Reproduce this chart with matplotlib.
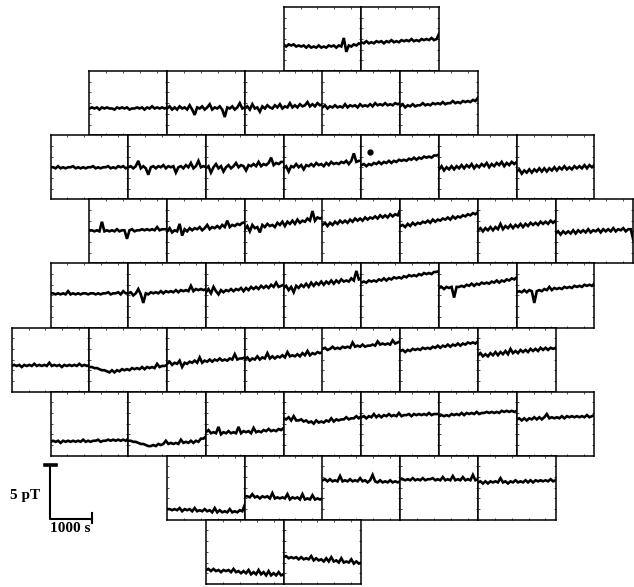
import numpy as np
import matplotlib
matplotlib.use("Agg")
import matplotlib.pyplot as plt

# field traces (pT above the bottom of each box), 32 samples over one record
row0 = [
    [2.5, 2.3, 2.5, 2.4, 2.5, 2.3, 2.4, 2.3, 2.4, 2.2, 2.4, 2.2, 2.3, 2.2, 2.4, 2.2, 2.3, 2.2, 2.4, 2.3, 2.4, 2.2, 2.4, 2.3, 3.1, 1.8, 2.4, 2.3, 2.5, 2.4, 2.6, 2.5],
    [2.7, 2.6, 2.8, 2.6, 2.7, 2.6, 2.8, 2.7, 2.8, 2.6, 2.8, 2.7, 2.9, 2.7, 2.8, 2.7, 2.9, 2.8, 2.9, 2.8, 3.0, 2.8, 2.9, 2.8, 3.0, 2.9, 3.0, 2.9, 3.1, 2.9, 3.0, 3.5],
]
row1 = [
    [2.5, 2.6, 2.5, 2.6, 2.4, 2.6, 2.5, 2.6, 2.5, 2.5, 2.4, 2.6, 2.5, 2.6, 2.5, 2.6, 2.4, 2.5, 2.5, 2.6, 2.5, 2.6, 2.4, 2.6, 2.5, 2.7, 2.5, 2.6, 2.5, 2.6, 2.5, 2.6],
    [2.5, 2.7, 2.4, 2.6, 2.4, 2.7, 2.5, 2.6, 2.4, 2.8, 2.4, 1.9, 2.6, 2.5, 2.7, 2.4, 2.6, 2.9, 2.4, 2.6, 2.5, 2.7, 2.4, 1.7, 2.6, 2.5, 2.7, 2.4, 2.6, 3.0, 2.5, 2.6],
    [2.5, 2.7, 2.4, 2.9, 2.5, 2.6, 2.2, 2.7, 2.5, 2.8, 2.6, 2.5, 2.8, 2.6, 2.9, 2.5, 2.7, 2.6, 3.0, 2.6, 2.8, 2.6, 2.9, 2.7, 2.8, 3.1, 2.7, 2.9, 2.7, 3.0, 2.8, 2.9],
    [2.6, 2.8, 2.5, 2.7, 2.6, 2.8, 2.6, 2.7, 2.6, 2.9, 2.6, 2.8, 2.7, 2.8, 2.6, 2.9, 2.7, 2.8, 2.7, 2.9, 2.7, 3.0, 2.8, 2.9, 2.8, 3.0, 2.8, 2.9, 2.8, 3.0, 2.9, 3.0],
    [2.7, 2.9, 2.6, 2.8, 2.7, 2.9, 2.7, 2.8, 2.8, 3.0, 2.8, 2.9, 2.8, 3.0, 2.9, 3.0, 2.9, 3.1, 2.9, 3.0, 3.0, 3.2, 3.0, 3.1, 3.0, 3.2, 3.1, 3.2, 3.1, 3.3, 3.2, 3.5],
]
row2 = [
    [3.0, 3.0, 2.9, 3.1, 2.9, 3.0, 2.9, 3.0, 3.0, 3.1, 2.9, 3.0, 2.9, 3.0, 2.9, 3.0, 3.0, 3.1, 2.9, 3.0, 2.9, 3.0, 3.0, 3.1, 2.9, 3.0, 2.9, 3.1, 3.0, 3.1, 2.9, 3.0],
    [3.0, 3.1, 2.9, 3.1, 3.6, 2.9, 3.1, 2.9, 2.3, 3.0, 3.1, 2.9, 3.1, 3.0, 3.2, 2.9, 3.1, 3.0, 3.1, 2.5, 3.0, 3.1, 2.9, 3.2, 3.0, 3.4, 2.9, 3.1, 3.6, 3.0, 3.1, 3.0],
    [2.9, 3.1, 2.5, 3.0, 3.3, 2.9, 3.1, 2.6, 3.0, 3.2, 2.9, 3.1, 3.4, 3.0, 3.2, 3.1, 2.7, 3.2, 3.1, 3.3, 3.1, 3.5, 3.1, 3.3, 3.2, 3.4, 3.9, 3.2, 3.4, 3.3, 3.5, 3.5],
    [2.9, 3.1, 2.6, 3.1, 3.0, 3.3, 3.0, 3.2, 2.8, 3.2, 3.1, 3.3, 3.1, 3.4, 3.2, 3.3, 3.1, 3.4, 3.2, 3.5, 3.3, 3.4, 3.3, 3.5, 3.4, 3.6, 3.3, 3.6, 4.3, 3.5, 3.6, 3.6],
    [3.2, 3.3, 3.1, 3.3, 3.2, 3.4, 3.3, 3.5, 3.3, 3.5, 3.4, 3.6, 3.4, 3.6, 3.5, 3.7, 3.6, 3.7, 3.6, 3.8, 3.7, 3.9, 3.7, 3.9, 3.8, 4.0, 3.9, 4.0, 3.9, 4.1, 4.1, 4.2],
    [2.8, 3.1, 2.7, 3.0, 2.8, 3.1, 2.8, 3.1, 2.9, 3.2, 2.9, 3.2, 3.0, 3.3, 2.9, 3.2, 3.0, 3.3, 3.1, 3.4, 3.0, 3.3, 3.1, 3.4, 3.2, 3.5, 3.1, 3.4, 3.2, 3.5, 3.3, 3.5],
    [2.6, 2.8, 2.4, 2.7, 2.5, 2.8, 2.5, 2.8, 2.6, 2.9, 2.6, 2.9, 2.6, 2.9, 2.7, 3.0, 2.7, 3.0, 2.8, 3.1, 2.8, 3.0, 2.8, 3.1, 2.9, 3.1, 2.9, 3.2, 2.9, 3.2, 3.0, 3.2],
]
row3 = [
    [3.1, 3.1, 3.0, 3.1, 3.0, 3.9, 3.0, 3.1, 3.0, 3.1, 3.0, 3.2, 3.0, 3.1, 3.1, 2.3, 3.1, 3.2, 3.0, 3.1, 3.1, 3.2, 3.1, 3.2, 3.1, 3.2, 3.1, 3.4, 3.1, 3.2, 3.2, 3.2],
    [3.0, 3.3, 2.9, 3.1, 3.0, 3.7, 2.6, 3.2, 3.0, 3.3, 3.1, 3.3, 3.2, 3.4, 3.1, 3.3, 3.6, 3.2, 3.4, 3.3, 3.5, 3.3, 3.6, 3.4, 4.0, 3.4, 3.6, 3.5, 3.7, 3.6, 3.8, 3.8],
    [3.2, 3.5, 3.0, 3.6, 3.3, 3.4, 2.9, 3.6, 3.4, 3.7, 3.5, 3.6, 3.4, 3.8, 3.6, 3.9, 3.5, 3.9, 3.7, 4.0, 3.7, 4.1, 3.8, 4.0, 3.9, 4.2, 4.0, 4.9, 4.0, 4.3, 4.2, 4.3],
    [3.6, 3.8, 3.5, 3.8, 3.6, 3.9, 3.7, 4.0, 3.8, 4.0, 3.8, 4.1, 3.9, 4.2, 4.0, 4.2, 4.0, 4.3, 4.1, 4.3, 4.2, 4.4, 4.2, 4.5, 4.3, 4.5, 4.3, 4.6, 4.4, 4.6, 4.5, 5.0],
    [3.5, 3.6, 3.4, 3.7, 3.5, 3.8, 3.6, 3.8, 3.7, 3.9, 3.8, 4.0, 3.8, 4.1, 3.9, 4.1, 4.0, 4.2, 4.1, 4.3, 4.1, 4.4, 4.2, 4.4, 4.3, 4.5, 4.4, 4.6, 4.5, 4.7, 4.6, 4.8],
    [3.1, 3.3, 3.0, 3.3, 3.1, 3.4, 3.1, 3.4, 3.2, 3.7, 3.2, 3.5, 3.3, 3.6, 3.3, 3.6, 3.4, 3.7, 3.4, 3.7, 3.5, 3.8, 3.6, 3.8, 3.6, 3.9, 3.7, 3.9, 3.7, 4.0, 3.8, 4.0],
    [2.8, 3.0, 2.7, 3.0, 2.8, 3.0, 2.8, 3.1, 2.8, 3.1, 2.9, 3.1, 2.9, 3.2, 2.9, 3.1, 3.0, 3.2, 2.9, 3.2, 3.0, 3.2, 3.0, 3.3, 3.0, 3.2, 3.1, 3.3, 3.0, 3.2, 3.2, 2.2],
]
row4 = [
    [3.2, 3.2, 3.1, 3.2, 3.1, 3.2, 3.1, 3.4, 3.1, 3.2, 3.1, 3.2, 3.1, 3.2, 3.2, 3.1, 3.2, 3.2, 3.1, 3.2, 3.1, 3.2, 3.2, 3.3, 3.1, 3.2, 3.2, 3.3, 3.1, 3.4, 3.2, 3.2],
    [3.2, 3.3, 3.0, 3.2, 3.6, 3.1, 2.3, 3.2, 3.1, 3.3, 3.2, 3.3, 3.2, 3.4, 3.2, 3.4, 3.3, 3.4, 3.3, 3.5, 3.3, 3.5, 3.4, 3.5, 3.4, 3.9, 3.4, 3.6, 3.5, 3.6, 3.5, 3.6],
    [3.3, 3.6, 3.2, 3.8, 3.4, 3.1, 3.5, 3.3, 3.5, 3.4, 3.6, 3.4, 3.6, 3.5, 3.7, 3.4, 3.7, 3.5, 3.8, 3.6, 3.8, 3.6, 3.9, 3.7, 3.9, 3.7, 4.0, 3.8, 4.2, 3.8, 3.9, 4.0],
    [3.7, 3.9, 3.5, 3.8, 3.3, 3.9, 3.7, 4.0, 3.8, 4.1, 3.8, 4.2, 3.9, 4.2, 4.0, 4.3, 4.0, 4.3, 4.1, 4.4, 4.1, 4.4, 4.2, 4.5, 4.3, 4.4, 4.3, 4.6, 4.4, 5.3, 4.5, 4.6],
    [4.2, 4.3, 4.2, 4.4, 4.3, 4.4, 4.3, 4.5, 4.4, 4.6, 4.4, 4.6, 4.5, 4.7, 4.6, 4.7, 4.6, 4.8, 4.7, 4.9, 4.8, 4.9, 4.8, 5.0, 4.9, 5.1, 5.0, 5.1, 5.0, 5.2, 5.2, 5.3],
    [3.7, 3.8, 3.6, 3.8, 3.7, 3.8, 2.8, 3.8, 3.8, 3.9, 3.8, 4.0, 3.9, 4.1, 3.9, 4.1, 4.0, 4.2, 4.1, 4.2, 4.1, 4.3, 4.2, 4.4, 4.2, 4.4, 4.3, 4.5, 4.4, 4.6, 4.5, 4.7],
    [3.3, 3.4, 3.3, 3.5, 3.3, 3.5, 3.4, 2.3, 3.4, 3.5, 3.4, 3.6, 3.5, 3.8, 3.5, 3.7, 3.6, 3.7, 3.6, 3.8, 3.7, 3.8, 3.7, 3.9, 3.8, 3.9, 3.8, 4.0, 3.9, 4.0, 3.9, 4.1],
]
row5 = [
    [2.4, 2.5, 2.4, 2.5, 2.3, 2.5, 2.4, 2.5, 2.4, 2.6, 2.4, 2.5, 2.4, 2.5, 2.4, 2.7, 2.4, 2.5, 2.4, 2.5, 2.3, 2.5, 2.4, 2.5, 2.4, 2.5, 2.4, 2.6, 2.4, 2.5, 2.4, 2.5],
    [2.3, 2.3, 2.2, 2.2, 2.1, 2.0, 2.0, 1.9, 1.8, 2.0, 1.8, 2.0, 1.9, 2.1, 2.0, 2.1, 2.0, 2.2, 2.1, 2.2, 2.1, 2.3, 2.1, 2.3, 2.2, 2.3, 2.2, 2.6, 2.3, 2.4, 2.4, 2.5],
    [2.6, 2.8, 2.5, 2.7, 2.6, 2.9, 2.3, 2.7, 2.6, 2.8, 2.7, 2.9, 2.7, 3.2, 2.7, 2.9, 2.8, 3.0, 2.8, 3.0, 2.9, 3.1, 2.9, 3.0, 2.9, 3.1, 3.0, 3.5, 3.0, 3.1, 3.1, 3.2],
    [3.0, 3.2, 2.9, 3.1, 3.0, 3.3, 3.0, 3.2, 3.1, 3.6, 3.1, 3.3, 3.1, 3.3, 3.2, 3.4, 3.2, 3.7, 3.3, 3.4, 3.3, 3.5, 3.3, 3.6, 3.4, 3.8, 3.4, 3.6, 3.5, 3.7, 3.6, 3.7],
    [4.0, 4.1, 3.9, 4.0, 4.2, 4.0, 4.1, 4.0, 4.2, 4.1, 4.2, 4.1, 4.6, 4.2, 4.3, 4.2, 4.4, 4.2, 4.3, 4.3, 4.4, 4.3, 4.7, 4.4, 4.5, 4.4, 4.5, 4.4, 4.8, 4.5, 4.6, 4.7],
    [3.8, 3.9, 3.7, 3.9, 3.8, 4.0, 3.9, 4.0, 3.9, 4.1, 4.0, 4.1, 4.0, 4.2, 4.1, 4.3, 4.1, 4.3, 4.2, 4.4, 4.2, 4.4, 4.3, 4.5, 4.3, 4.5, 4.4, 4.6, 4.5, 4.6, 4.5, 4.7],
    [3.4, 3.6, 3.3, 3.5, 3.3, 3.6, 3.4, 3.7, 3.4, 3.7, 3.5, 3.8, 3.5, 4.0, 3.6, 3.8, 3.6, 3.9, 3.7, 3.9, 3.7, 4.0, 3.8, 4.0, 3.8, 4.1, 3.9, 4.1, 3.9, 4.1, 4.0, 4.1],
]
row6 = [
    [1.3, 1.4, 1.3, 1.4, 1.2, 1.4, 1.3, 1.4, 1.3, 1.4, 1.3, 1.4, 1.3, 1.5, 1.3, 1.4, 1.3, 1.4, 1.4, 1.5, 1.3, 1.4, 1.4, 1.5, 1.4, 1.5, 1.4, 1.5, 1.4, 1.5, 1.4, 1.6],
    [1.4, 1.4, 1.3, 1.3, 1.2, 1.1, 1.1, 1.0, 0.9, 0.9, 1.0, 0.9, 1.1, 1.0, 1.1, 1.4, 1.1, 1.2, 1.1, 1.2, 1.1, 1.5, 1.2, 1.3, 1.2, 1.4, 1.2, 1.4, 1.3, 1.6, 1.6, 1.8],
    [2.2, 2.4, 2.1, 2.2, 2.1, 2.7, 2.0, 2.2, 2.1, 2.3, 2.1, 2.2, 2.1, 2.7, 2.1, 2.3, 2.2, 2.3, 2.1, 2.6, 2.2, 2.3, 2.2, 2.4, 2.3, 2.5, 2.3, 2.4, 2.3, 2.5, 2.4, 2.6],
    [3.5, 3.4, 3.6, 3.3, 3.7, 3.3, 3.3, 3.4, 3.2, 3.3, 3.1, 3.2, 3.0, 3.3, 3.1, 3.2, 3.1, 3.3, 3.2, 3.5, 3.2, 3.4, 3.3, 3.4, 3.4, 3.6, 3.4, 3.5, 3.5, 3.7, 3.5, 3.7],
    [3.6, 3.7, 3.5, 3.7, 3.6, 3.9, 3.6, 3.8, 3.6, 3.8, 3.7, 3.9, 3.7, 3.8, 3.7, 4.0, 3.7, 3.8, 3.8, 3.9, 3.7, 3.9, 3.8, 3.9, 3.8, 3.9, 3.8, 4.0, 3.8, 3.9, 3.9, 3.9],
    [3.7, 3.8, 3.7, 3.8, 3.7, 3.9, 3.8, 3.9, 3.8, 4.0, 3.8, 4.0, 3.9, 4.0, 3.9, 4.1, 3.9, 4.0, 4.0, 4.1, 4.0, 4.1, 4.0, 4.1, 4.0, 4.2, 4.1, 4.2, 4.1, 4.2, 4.1, 4.2],
    [3.4, 3.5, 3.3, 3.5, 3.3, 3.5, 3.4, 3.6, 3.4, 3.6, 3.4, 3.6, 3.9, 3.5, 3.6, 3.5, 3.6, 3.5, 3.7, 3.5, 3.7, 3.6, 3.7, 3.6, 3.7, 3.6, 3.7, 3.6, 3.8, 3.6, 3.7, 3.8],
]
row7 = [
    [1.0, 1.0, 0.9, 1.0, 0.9, 1.1, 0.8, 1.0, 0.9, 1.0, 0.8, 1.1, 0.8, 0.9, 0.8, 1.0, 0.8, 0.9, 0.7, 1.1, 0.7, 0.9, 0.7, 0.8, 0.7, 1.0, 0.7, 0.8, 0.7, 0.9, 0.8, 1.4],
    [2.2, 2.2, 2.1, 2.4, 2.1, 2.2, 2.0, 2.2, 2.1, 2.2, 2.0, 2.5, 2.0, 2.1, 2.0, 2.1, 2.0, 2.4, 1.9, 2.1, 2.0, 2.1, 1.9, 2.4, 1.9, 2.0, 1.9, 2.3, 1.9, 2.0, 1.9, 2.0],
    [3.7, 3.8, 3.6, 3.8, 3.6, 3.7, 3.6, 4.1, 3.6, 3.7, 3.6, 3.8, 3.6, 3.7, 3.6, 3.9, 3.6, 3.7, 3.5, 3.7, 4.2, 3.6, 3.5, 3.7, 3.5, 3.6, 3.5, 3.7, 3.5, 3.6, 3.5, 3.6],
    [3.8, 3.8, 3.7, 3.8, 3.7, 3.9, 3.7, 3.8, 3.7, 3.9, 3.7, 3.8, 3.8, 3.9, 3.7, 3.8, 3.7, 4.0, 3.7, 3.8, 3.7, 4.1, 3.7, 3.8, 3.7, 4.0, 3.7, 3.8, 3.7, 4.2, 3.7, 3.8],
    [3.5, 3.6, 3.4, 3.6, 3.4, 3.6, 3.5, 3.6, 3.5, 3.9, 3.5, 3.6, 3.4, 3.6, 3.5, 3.7, 3.5, 3.6, 3.5, 3.7, 3.5, 3.7, 3.5, 3.7, 3.6, 3.7, 3.6, 3.7, 3.6, 3.8, 3.6, 3.7],
]
row8 = [
    [1.3, 1.4, 1.2, 1.4, 1.2, 1.3, 1.1, 1.3, 1.2, 1.3, 1.1, 1.4, 1.1, 1.2, 1.0, 1.2, 1.0, 1.3, 0.9, 1.1, 0.9, 1.3, 0.9, 1.1, 0.8, 1.2, 0.8, 1.0, 0.8, 1.1, 0.8, 0.9],
    [2.5, 2.6, 2.4, 2.5, 2.4, 2.5, 2.3, 2.5, 2.3, 2.4, 2.3, 2.6, 2.2, 2.4, 2.2, 2.3, 2.1, 2.4, 2.1, 2.5, 2.1, 2.2, 2.0, 2.4, 2.0, 2.1, 2.0, 2.3, 1.9, 2.1, 1.9, 2.0],
]
rows = [row0, row1, row2, row3, row4, row5, row6, row7, row8]
# first box of each row, counted in half-box steps from the left
row_offsets = [7, 2, 1, 2, 1, 0, 1, 4, 5]

# stray blot on the record (row 2, fifth box)
blot_t = [200]
blot_b = [4.46]

record_s = 1840      # length of one box in seconds
box_pt = 6.0         # height of one box in pT

# layout in pixels
W, H = 634, 587
x0, y0 = 11.7, 7.0
bw, bh = 77.7, 64.1

fig = plt.figure(figsize=(W / 100, H / 100), dpi=100)

# background axes in s / pT units for the scale bar
s_per_px = record_s / bw
pt_per_px = box_pt / bh
bg = fig.add_axes([0, 0, 1, 1])
bg.set_xlim(0, W * s_per_px)
bg.set_ylim(0, H * pt_per_px)
bg.axis("off")

for r, traces in enumerate(rows):
    for c, vals in enumerate(traces):
        left = x0 + (row_offsets[r] + 2 * c) * bw / 2
        top = y0 + r * bh
        ax = fig.add_axes([left / W, 1 - (top + bh) / H, bw / W, bh / H])
        t = np.linspace(0, record_s, len(vals))
        ax.plot(t, vals, color="black", lw=1.9, solid_joinstyle="miter")
        if r == 2 and c == 4:
            ax.plot(blot_t, blot_b, "o", color="black", ms=3.5)
        ax.set_xlim(0, record_s)
        ax.set_ylim(0, box_pt)
        ax.set_xticks([400, 800, 1200, 1600])
        ax.set_yticks([1, 2, 3, 4, 5])
        ax.tick_params(direction="in", length=1.5, width=0.5, top=True, right=True,
                       labelbottom=False, labelleft=False)
        for sp in ax.spines.values():
            sp.set_linewidth(1.1)

# scale bar: 1000 s and 5 pT
sx = 50 * s_per_px
sy = (H - 518.7) * pt_per_px
bg.plot([sx, sx, sx + 1000], [sy + 5, sy, sy], color="black", lw=1.5)
bg.plot([sx - 120, sx + 150], [sy + 5, sy + 5], color="black", lw=2.6)
bg.plot([sx + 1000, sx + 1000], [sy - 0.4, sy + 0.5], color="black", lw=1.5)
bg.text(sx - 230, sy + 2.2, "5 pT", family="Liberation Serif", fontsize=11,
        fontweight="bold", ha="right", va="center")
bg.text(sx + 10, sy - 0.3, "1000 s", family="Liberation Serif", fontsize=11,
        fontweight="bold", ha="left", va="top")

fig.savefig("out.png", dpi=100)
